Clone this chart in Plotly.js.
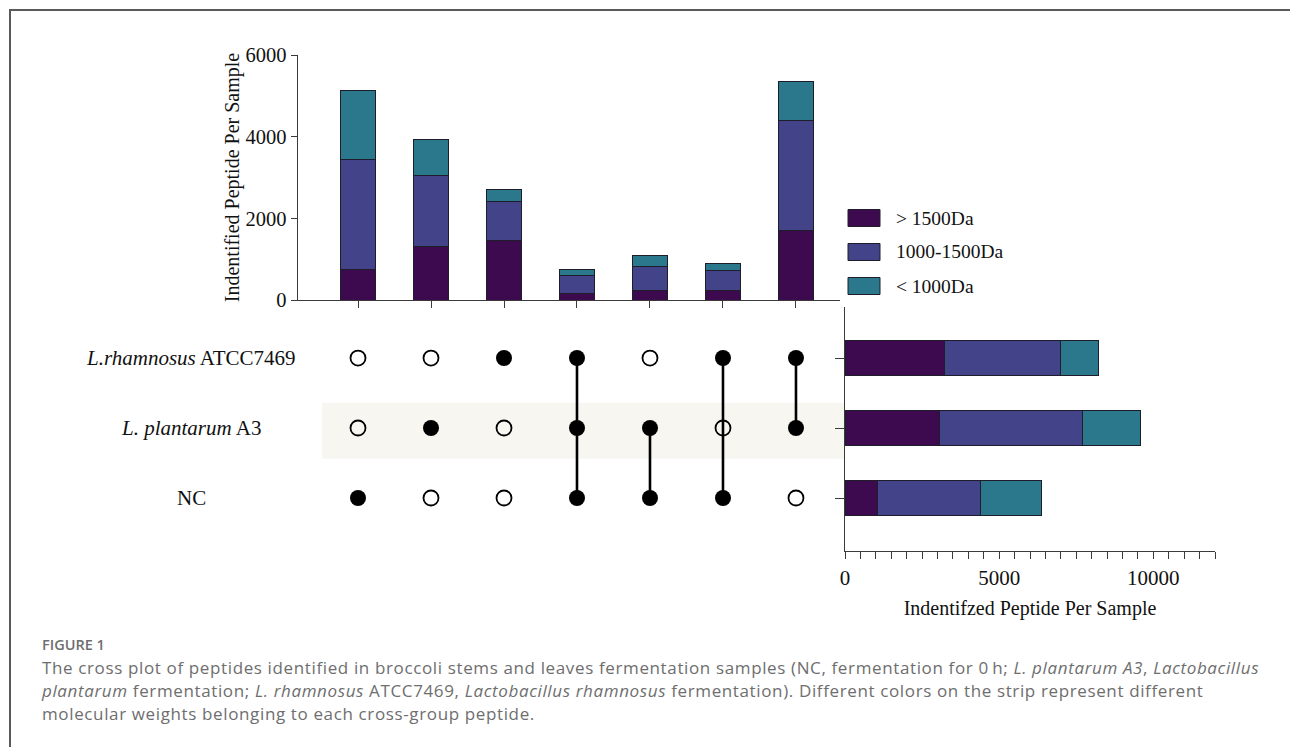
<!DOCTYPE html>
<html>
<head>
<meta charset="utf-8">
<script src="https://cdn.plot.ly/plotly-3.0.1.min.js"></script>
<style>
  html, body { margin:0; padding:0; background:#fff; }
  #wrap { position:relative; width:1290px; height:747px; overflow:hidden; }
  #chart { position:absolute; left:0; top:0; width:1290px; height:747px; }
  #frameL { position:absolute; left:9px; top:9px; width:2px; height:760px; background:#5a5a5a; }
  #frameT { position:absolute; left:9px; top:9px; width:1290px; height:2px; background:#5a5a5a; }
  #figlabel { position:absolute; left:42px; top:635px; font-family:"Open Sans", Lato, sans-serif; font-weight:600; font-size:14.5px; line-height:20px; color:#6e6e6e; }
  #caption { position:absolute; left:42px; top:656px; font-family:"Open Sans", Lato, sans-serif; font-size:17px; line-height:23px; color:#6e6e6e; white-space:nowrap; letter-spacing:0.63px; }
</style>
</head>
<body>
<div id="wrap">
  <div id="chart"></div>
  <div id="frameL"></div>
  <div id="frameT"></div>
  <div id="figlabel">FIGURE 1</div>
  <div id="caption">The cross plot of peptides identified in broccoli stems and leaves fermentation samples (NC, fermentation for 0&#8201;h; <i>L. plantarum A3</i>, <i>Lactobacillus</i><br><i>plantarum</i> fermentation; <i>L. rhamnosus</i> ATCC7469, <i>Lactobacillus rhamnosus</i> fermentation). Different colors on the strip represent different<br>molecular weights belonging to each cross-group peptide.</div>
</div>
<script>
// ---- data ----
const seriesNames = ["> 1500Da", "1000-1500Da", "< 1000Da"];
const seriesColors = ["#3d0a4f", "#424388", "#2b778c"];

// intersection columns (top bar chart)
const intersections = [0, 1, 2, 3, 4, 5, 6];
const over1500 = [735, 1306, 1461, 171, 245, 229, 1690];
const mid1000_1500 = [2694, 1755, 947, 441, 571, 489, 2718];
const under1000 = [1698, 866, 286, 131, 262, 172, 939];

// sets (matrix rows, bottom to top)
const setNames = ["NC", "L. plantarum A3", "L.rhamnosus ATCC7469"];
const setLabels = ["NC", "<i>L. plantarum</i> A3", "<i>L.rhamnosus</i> ATCC7469"];
// membership of each intersection column
const membership = [
  ["NC"],
  ["L. plantarum A3"],
  ["L.rhamnosus ATCC7469"],
  ["L.rhamnosus ATCC7469", "L. plantarum A3", "NC"],
  ["L. plantarum A3", "NC"],
  ["L.rhamnosus ATCC7469", "NC"],
  ["L.rhamnosus ATCC7469", "L. plantarum A3"]
];

// set totals (right horizontal bars)
const setOver1500 = [1053, 3051, 3225];
const setMid = [3355, 4636, 3757];
const setUnder = [1955, 1890, 1226];

// tick labels
const setTickVals = [0, 5000, 10000];
const setTickText = ["0", "5000", "10000"];
const topTickVals = [0, 2000, 4000, 6000];

// ---- geometry helpers ----
const W = 1290, H = 747;
const px = x => x / W;
const py = y => 1 - y / H;
const serif = "'Liberation Serif', 'DejaVu Serif', serif";
const axisCol = "#3a3a3a";

const traces = [];
const segData = [over1500, mid1000_1500, under1000];
segData.forEach((vals, i) => {
  traces.push({
    type: "bar", x: intersections, y: vals, name: seriesNames[i],
    marker: {color: seriesColors[i], line: {color: "#1e1e2a", width: 1}},
    width: 0.49, xaxis: "x", yaxis: "y", showlegend: false, hoverinfo: "y"
  });
});
const setSeg = [setOver1500, setMid, setUnder];
setSeg.forEach((vals, i) => {
  traces.push({
    type: "bar", orientation: "h", y: [0, 1, 2], x: vals, name: seriesNames[i],
    marker: {color: seriesColors[i], line: {color: "#1e1e2a", width: 1}},
    width: 0.5, xaxis: "x3", yaxis: "y3", showlegend: false, hoverinfo: "x"
  });
});

// connecting lines
membership.forEach((mem, c) => {
  const ys = mem.map(n => setNames.indexOf(n));
  if (ys.length > 1) {
    traces.push({
      type: "scatter", mode: "lines", x: [c, c], y: [Math.min(...ys), Math.max(...ys)],
      line: {color: "#000", width: 2.6}, xaxis: "x2", yaxis: "y2", showlegend: false, hoverinfo: "skip"
    });
  }
});
// dots
const fx = [], fy = [], ox = [], oy = [];
membership.forEach((mem, c) => {
  setNames.forEach((n, r) => {
    if (mem.includes(n)) { fx.push(c); fy.push(r); } else { ox.push(c); oy.push(r); }
  });
});
traces.push({type: "scatter", mode: "markers", x: ox, y: oy, xaxis: "x2", yaxis: "y2",
  marker: {symbol: "circle-open", size: 15, color: "#000", line: {width: 1.8, color: "#000"}},
  showlegend: false, hoverinfo: "skip"});
traces.push({type: "scatter", mode: "markers", x: fx, y: fy, xaxis: "x2", yaxis: "y2",
  marker: {symbol: "circle", size: 16, color: "#000"}, showlegend: false, hoverinfo: "skip"});

const xRange = [-0.822, 6.603];
const rowRange = [-0.757, 2.729];

const annotations = [];
setLabels.forEach((lab, r) => {
  annotations.push({text: lab, xref: "paper", x: px(191), xanchor: "center", yref: "y2", y: r,
    yanchor: "middle", showarrow: false, font: {family: serif, size: 21, color: "#111"}});
});
const shapes = [{type: "rect", xref: "paper", x0: px(322), x1: px(845), yref: "y2", y0: 0.56, y1: 1.36,
  fillcolor: "#f7f6f0", line: {width: 0}, layer: "below"}];
// custom legend
const legY = [218, 252, 286];
seriesNames.forEach((n, i) => {
  shapes.push({type: "rect", xref: "paper", yref: "paper", x0: px(848), x1: px(880),
    y0: py(legY[i] + 8.5), y1: py(legY[i] - 8.5), fillcolor: seriesColors[i], line: {color: "#1e1e2a", width: 1}});
  annotations.push({text: n, xref: "paper", yref: "paper", x: px(894), y: py(legY[i]), xanchor: "left",
    yanchor: "middle", showarrow: false, font: {family: serif, size: 19.5, color: "#111"}});
});

const layout = {
  width: W, height: H, margin: {l: 0, r: 0, t: 0, b: 0},
  paper_bgcolor: "rgba(0,0,0,0)", plot_bgcolor: "rgba(0,0,0,0)",
  barmode: "stack", showlegend: false,
  font: {family: serif, color: "#111"},
  xaxis: {domain: [px(298), px(840)], range: xRange, anchor: "y", showline: true, linecolor: axisCol, linewidth: 1.3,
    ticks: "outside", ticklen: 7, tickcolor: axisCol, tickvals: intersections, showticklabels: false,
    showgrid: false, zeroline: false, fixedrange: true},
  yaxis: {domain: [py(300), py(55)], range: [0, 6000], anchor: "x", showline: true, linecolor: axisCol, linewidth: 1.3,
    ticks: "outside", ticklen: 6, tickcolor: axisCol, tickvals: topTickVals, showgrid: false, zeroline: false,
    tickfont: {family: serif, size: 20.5, color: "#111"},
    title: {text: "Indentified Peptide Per Sample", font: {family: serif, size: 20, color: "#111"}, standoff: 0}},
  xaxis2: {domain: [px(298), px(840)], range: xRange, anchor: "y2", visible: false, fixedrange: true},
  yaxis2: {domain: [py(551), py(307)], range: rowRange, anchor: "x2", visible: false, fixedrange: true},
  xaxis3: {domain: [px(845), px(1215)], range: [0, 12000], anchor: "y3", showline: true, linecolor: axisCol, linewidth: 1.3,
    ticks: "outside", ticklen: 7, tickcolor: axisCol, tickvals: setTickVals, ticktext: setTickText,
    minor: {dtick: 500, ticks: "outside", ticklen: 7, tickcolor: axisCol, showgrid: false},
    showgrid: false, zeroline: false, tickfont: {family: serif, size: 21, color: "#111"},
    title: {text: "Indentifzed Peptide Per Sample", font: {family: serif, size: 20, color: "#111"}, standoff: 12}},
  yaxis3: {domain: [py(551), py(307)], range: rowRange, anchor: "x3", showline: true, linecolor: axisCol, linewidth: 1.3,
    ticks: "outside", ticklen: 9, tickcolor: axisCol, tickvals: [0, 1, 2], showticklabels: false,
    showgrid: false, zeroline: false},
  shapes: shapes, annotations: annotations
};
Plotly.newPlot("chart", traces, layout, {displayModeBar: false, staticPlot: true});
</script>
</body>
</html>
